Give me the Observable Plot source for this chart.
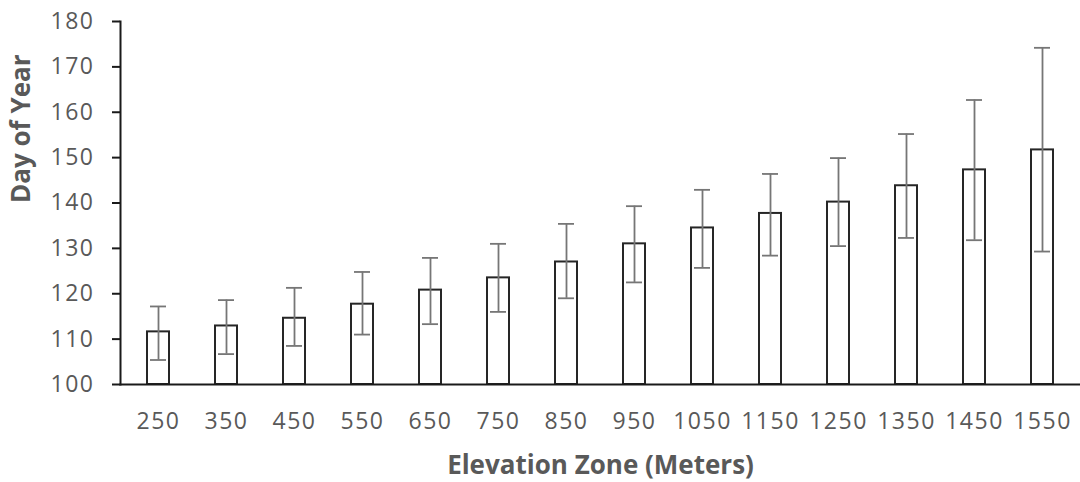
<!DOCTYPE html>
<html>
<head>
<meta charset="utf-8">
<script src="https://cdn.jsdelivr.net/npm/d3@7"></script>
<script src="https://cdn.jsdelivr.net/npm/@observablehq/plot@0.6"></script>
<style>
  html, body { margin: 0; padding: 0; background: #fff; }
  g[aria-label="x-axis tick label"] text,
  g[aria-label="y-axis tick label"] text { letter-spacing: 1.5px; }
</style>
</head>
<body>
<div id="chart"></div>
<script>
const zones = ["250","350","450","550","650","750","850","950","1050","1150","1250","1350","1450","1550"];
const means = [111.6,112.9,114.6,117.7,120.8,123.5,127.0,131.0,134.5,137.7,140.2,143.8,147.3,151.7];
const upper = [117.2,118.6,121.3,124.8,127.9,131.0,135.4,139.3,142.9,146.4,149.9,155.2,162.7,174.2];
const lower = [105.4,106.7,108.5,111.0,113.3,116.0,119.0,122.5,125.7,128.4,130.5,132.3,131.8,129.3];
const yTicks = [100,110,120,130,140,150,160,170,180];
const xTitle = "Elevation Zone (Meters)";
const yTitle = "Day of Year";

const data = zones.map((z, i) => ({zone: z, mean: means[i], hi: upper[i], lo: lower[i]}));

const chart = Plot.plot({
  width: 1080,
  height: 482,
  marginLeft: 120,
  marginRight: 0,
  marginTop: 21,
  marginBottom: 98,
  style: {fontFamily: "'Open Sans', sans-serif", background: "#fff"},
  x: {domain: zones, paddingInner: 0.68, paddingOuter: 0.34, axis: null},
  y: {domain: [100, 180], axis: null},
  marks: [
    Plot.barY(data, {x: "zone", y1: 100, y2: "mean", fill: "#fff", stroke: "#262626", strokeWidth: 2}),
    Plot.ruleX(data, {x: "zone", y1: "lo", y2: "hi", stroke: "#767676", strokeWidth: 1.8}),
    Plot.tickY(data, {x: "zone", y: "hi", stroke: "#767676", strokeWidth: 1.8, insetLeft: 3, insetRight: 3}),
    Plot.tickY(data, {x: "zone", y: "lo", stroke: "#767676", strokeWidth: 1.8, insetLeft: 3, insetRight: 3}),
    Plot.axisY({ticks: yTicks, tickSize: 8, text: null, label: null, stroke: "#1a1a1a", strokeWidth: 2}),
    Plot.axisY({ticks: yTicks, tickSize: 0, tickPadding: 26, label: null, fill: "#595959", fontSize: 23}),
    Plot.axisX({tickSize: 0, tickPadding: 28, label: null, fill: "#595959", fontSize: 23}),
    Plot.frame({anchor: "left", stroke: "#1a1a1a", strokeWidth: 2}),
    Plot.frame({anchor: "bottom", stroke: "#1a1a1a", strokeWidth: 2}),
    Plot.text([yTitle], {text: d => d, frameAnchor: "left", dx: -99, rotate: -90, fill: "#595959", fontSize: 26, fontWeight: "bold"}),
    Plot.text([xTitle], {text: d => d, frameAnchor: "bottom", dy: 89, fill: "#595959", fontSize: 26, fontWeight: "bold"})
  ]
});
document.getElementById("chart").appendChild(chart);
</script>
</body>
</html>
